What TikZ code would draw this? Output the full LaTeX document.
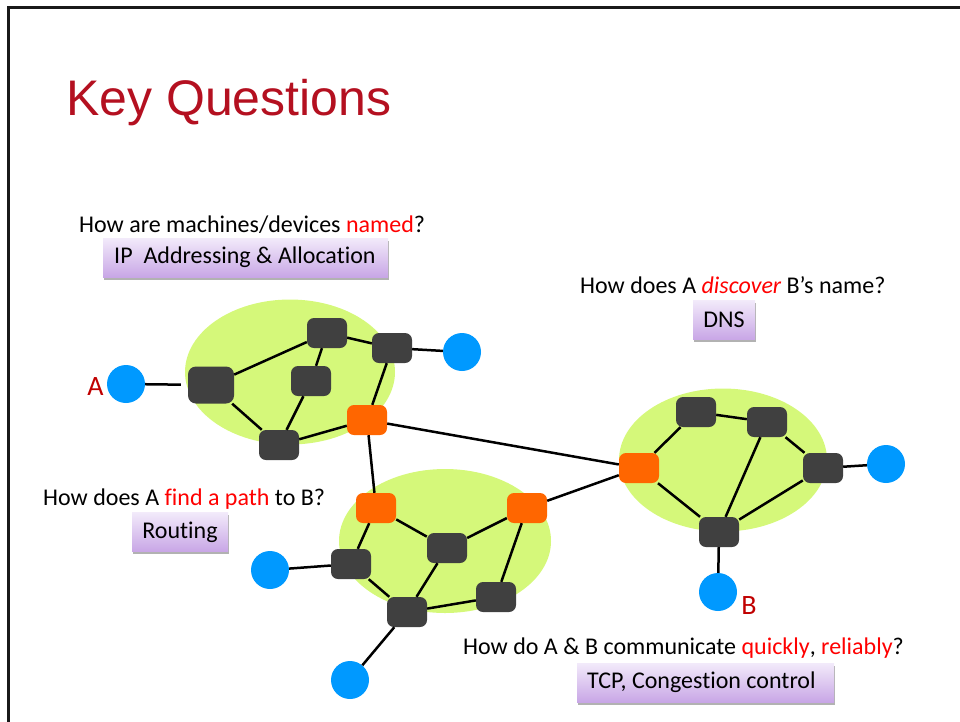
\documentclass[tikz,border=0pt]{standalone}
\usepackage{fontspec}
\setmainfont{Carlito}[Ligatures={TeX,NoCommon}]
\newfontfamily\titlefont{Liberation Sans}
\usetikzlibrary{shapes.geometric,shadows}

\definecolor{titlered}{RGB}{180,16,32}
\definecolor{hilite}{RGB}{255,0,0}
\definecolor{endred}{RGB}{192,0,0}
\definecolor{netgreen}{RGB}{213,248,122}
\definecolor{routergray}{RGB}{64,64,64}
\definecolor{edgeorange}{RGB}{255,102,0}
\definecolor{hostblue}{RGB}{0,153,255}
\definecolor{boxtop}{RGB}{242,234,250}
\definecolor{boxbottom}{RGB}{200,166,230}

\begin{document}
\begin{tikzpicture}[x=1pt,y=-1pt,
  net/.style={ellipse, fill=netgreen, inner sep=0pt},
  router/.style={rectangle, rounded corners=7pt, fill=routergray,
    minimum width=40pt, minimum height=30pt, inner sep=0pt},
  gateway/.style={router, fill=edgeorange},
  host/.style={circle, fill=hostblue, minimum size=38pt, inner sep=0pt},
  link/.style={line width=2.5pt, black},
  question/.style={font=\fontsize{24}{28}\selectfont, inner sep=0pt},
  answer/.style={font=\fontsize{24}{28}\selectfont, top color=boxtop,
    bottom color=boxbottom, minimum height=39pt, inner sep=0pt,
    drop shadow={shadow xshift=0.5pt, shadow yshift=-2.5pt, fill=black, opacity=0.3}},
  endlabel/.style={font=\fontsize{28}{30}\selectfont, text=endred, inner sep=0pt},
]
\useasboundingbox (0,0) rectangle (960,721);
\clip (0,0) rectangle (960,721);

% slide frame
\draw[line width=2.5pt, black!90] (8.5,7.5) rectangle (975,740);

% title
\node[font=\titlefont\fontsize{50}{56}\selectfont, text=titlered, anchor=base west, inner sep=0pt]
  (title) at (66,115) {Key Questions};

% the three networks
\node[net, minimum width=210pt, minimum height=145pt] (netA) at (290,372) {};
\node[net, minimum width=212pt, minimum height=144pt] (netC) at (445,541) {};
\node[net, minimum width=208pt, minimum height=143pt] (netB) at (723,460) {};

% network A
\node[router, minimum width=46pt, minimum height=37pt, rounded corners=8pt] (a1) at (211,385) {};
\node[router] (a2) at (327,333) {};
\node[router] (a3) at (392,348) {};
\node[router] (a4) at (311,381) {};
\node[router] (a5) at (279,445) {};
\node[gateway] (ga) at (367,420) {};

% network B
\node[gateway] (gb) at (639,468) {};
\node[router] (b1) at (696,412) {};
\node[router] (b2) at (767,422) {};
\node[router] (b3) at (823,468) {};
\node[router] (b4) at (719,532) {};

% network C
\node[gateway] (gc1) at (376,508) {};
\node[gateway] (gc2) at (527,508) {};
\node[router] (c1) at (351,564) {};
\node[router] (c2) at (447,548) {};
\node[router] (c3) at (407,612) {};
\node[router] (c4) at (496,597) {};

% end hosts
\node[host] (hA) at (126,384) {};
\node[host] (hA2) at (462,352) {};
\node[host] (hB2) at (886,464) {};
\node[host] (hB) at (718,592) {};
\node[host] (hC1) at (270,570) {};
\node[host] (hC2) at (350,680) {};

\node[endlabel, anchor=base] (labA) at (95.5,395) {A};
\node[endlabel, anchor=base] (labB) at (749,614) {B};

% links
\draw[link, shorten >=7pt] (hA) -- (a1);
\draw[link] (a1) -- (a2) (a1) -- (a5) (a2) -- (a3) (a2) -- (a4) (a4) -- (a5)
  (a3) -- (ga) (a3) -- (hA2) (a5) -- (ga)
  (ga) -- (gb) (ga) -- (gc1)
  (gb) -- (b1) (b1) -- (b2) (b2) -- (b3) (b3) -- (hB2) (b2) -- (b4) (b3) -- (b4)
  (gb) -- (b4) (b4) -- (hB) (gb) -- (gc2)
  (gc1) -- (c1) (gc1) -- (c2) (c1) -- (c3) (c2) -- (c3) (c2) -- (gc2)
  (gc2) -- (c4) (c3) -- (c4) (c1) -- (hC1) (c3) -- (hC2);

% questions and their answers
\node[question, anchor=base west] (q1) at (79,232)
  {How are machines/devices \textcolor{hilite}{named}?};
\node[answer, anchor=north west, inner xsep=11pt, text width=263pt, align=flush left] (ans1) at (103,238)
  {IP~~Addressing \& Allocation};

\node[question, anchor=base west] (q2) at (580,293)
  {How does A \textcolor{hilite}{\itshape discover} B’s name?};
\node[answer, minimum width=62pt] (ans2) at (724,320) {DNS};

\node[question, anchor=base west] (q3) at (43,505)
  {How does A \textcolor{hilite}{find a path} to B?};
\node[answer, minimum width=96pt] (ans3) at (180,532) {Routing};

\node[question, anchor=base west] (q4) at (463,654)
  {How do A \& B communicate \textcolor{hilite}{quickly}, \textcolor{hilite}{reliably}?};
\node[answer, anchor=north west, inner xsep=10pt, text width=237pt, align=flush left] (ans4) at (577,663)
  {TCP, Congestion control};
\end{tikzpicture}
\end{document}
